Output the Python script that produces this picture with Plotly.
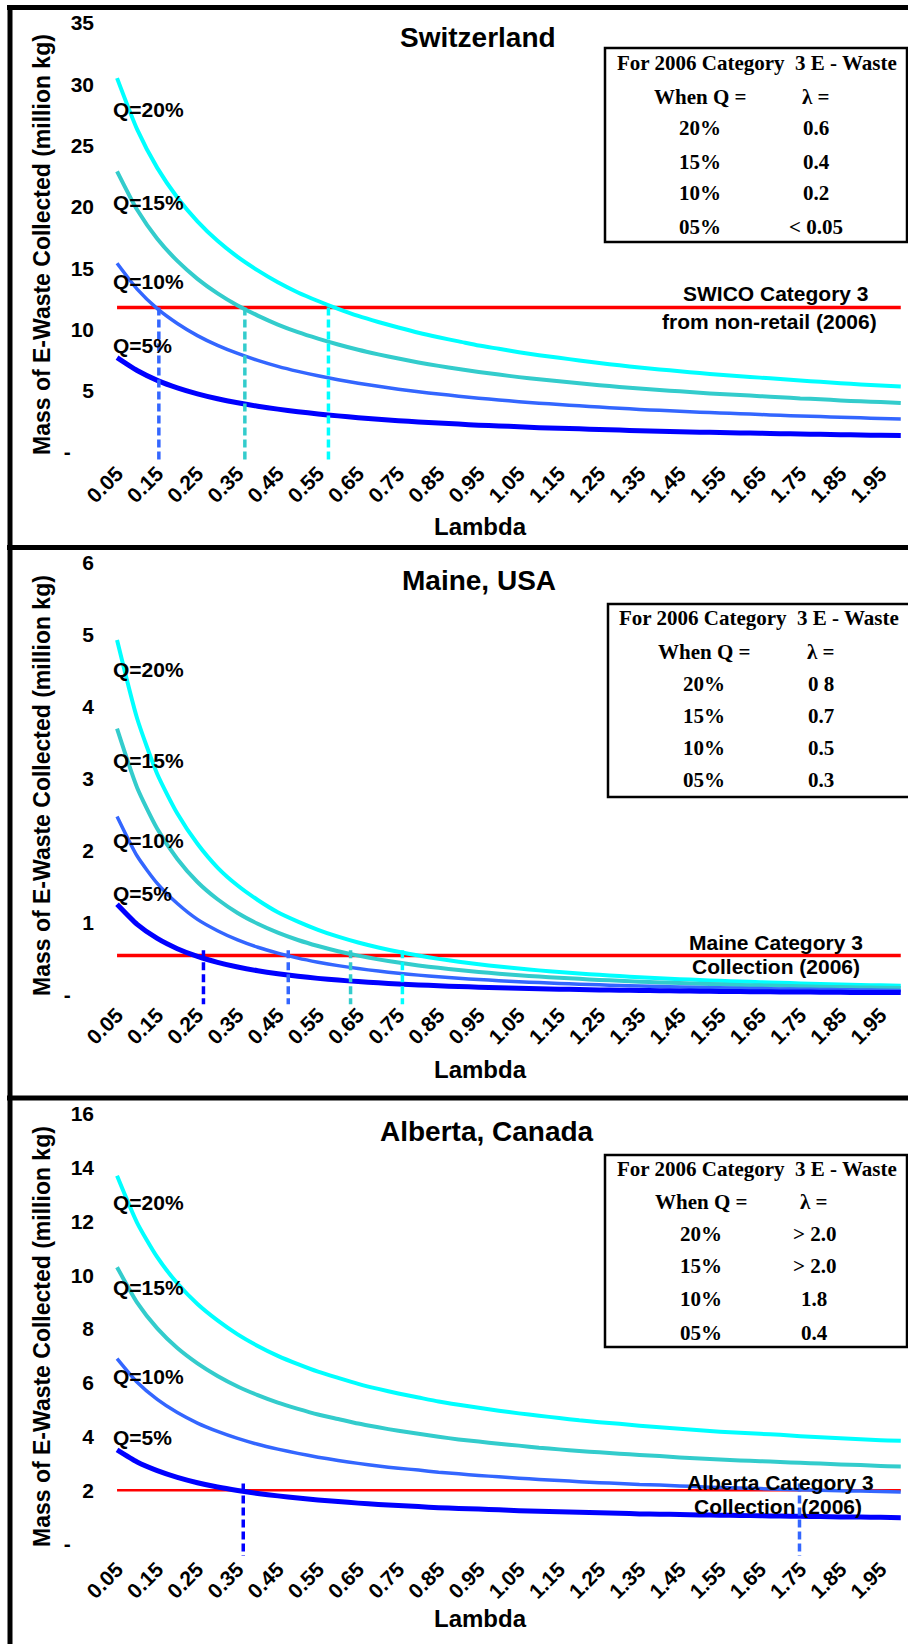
import plotly.graph_objects as go

W, H = 908, 1644

# ---------------------------------------------------------------- data
lam = [0.05, 0.10, 0.15, 0.20, 0.25, 0.30, 0.35, 0.40, 0.45, 0.50,
       0.55, 0.60, 0.65, 0.70, 0.75, 0.80, 0.85, 0.90, 0.95, 1.00,
       1.05, 1.10, 1.15, 1.20, 1.25, 1.30, 1.35, 1.40, 1.45, 1.50,
       1.55, 1.60, 1.65, 1.70, 1.75, 1.80, 1.85, 1.90, 1.95, 2.00]

x_ticktext = ["0.05", "0.15", "0.25", "0.35", "0.45", "0.55", "0.65", "0.75", "0.85", "0.95",
              "1.05", "1.15", "1.25", "1.35", "1.45", "1.55", "1.65", "1.75", "1.85", "1.95"]

# Switzerland (million kg)
ch_q20 = [30.50, 26.32, 23.18, 20.77, 18.82, 17.23, 15.92, 14.82, 13.85, 13.02,
          12.32, 11.68, 11.10, 10.61, 10.16, 9.73, 9.36, 9.03, 8.69, 8.42,
          8.14, 7.90, 7.69, 7.47, 7.26, 7.08, 6.89, 6.74, 6.59, 6.44,
          6.31, 6.19, 6.07, 5.95, 5.83, 5.73, 5.61, 5.52, 5.43, 5.34]
ch_q15 = [22.90, 19.76, 17.40, 15.59, 14.13, 12.94, 11.95, 11.13, 10.40, 9.78,
          9.25, 8.77, 8.34, 7.97, 7.63, 7.31, 7.03, 6.78, 6.53, 6.32,
          6.11, 5.93, 5.77, 5.61, 5.45, 5.31, 5.18, 5.06, 4.95, 4.83,
          4.74, 4.65, 4.56, 4.47, 4.37, 4.31, 4.21, 4.14, 4.08, 4.01]
ch_q10 = [15.40, 13.29, 11.70, 10.49, 9.50, 8.70, 8.04, 7.48, 6.99, 6.58,
          6.22, 5.90, 5.61, 5.36, 5.13, 4.91, 4.73, 4.56, 4.39, 4.25,
          4.11, 3.99, 3.88, 3.77, 3.67, 3.57, 3.48, 3.40, 3.33, 3.25,
          3.19, 3.13, 3.06, 3.00, 2.94, 2.90, 2.83, 2.79, 2.74, 2.70]
ch_q05 = [7.70, 6.65, 5.85, 5.24, 4.75, 4.35, 4.02, 3.74, 3.50, 3.29,
          3.11, 2.95, 2.80, 2.68, 2.56, 2.46, 2.36, 2.28, 2.19, 2.13,
          2.06, 1.99, 1.94, 1.89, 1.83, 1.79, 1.74, 1.70, 1.66, 1.62,
          1.59, 1.56, 1.53, 1.50, 1.47, 1.45, 1.42, 1.39, 1.37, 1.35]
ch_target = 11.8
ch_cross = [0.154, 0.368, 0.576]          # Q=10%, 15%, 20%

# Maine, USA (million kg)
me_q20 = [4.93, 3.84, 3.07, 2.52, 2.10, 1.77, 1.52, 1.32, 1.15, 1.02,
          0.906, 0.810, 0.729, 0.660, 0.600, 0.548, 0.502, 0.462, 0.426, 0.395,
          0.367, 0.342, 0.318, 0.298, 0.280, 0.263, 0.247, 0.233, 0.220, 0.208,
          0.197, 0.187, 0.178, 0.169, 0.161, 0.153, 0.146, 0.140, 0.134, 0.128]
me_q15 = [3.70, 2.88, 2.31, 1.89, 1.57, 1.33, 1.14, 0.990, 0.866, 0.764,
          0.680, 0.608, 0.547, 0.495, 0.450, 0.411, 0.377, 0.347, 0.320, 0.296,
          0.275, 0.256, 0.239, 0.224, 0.210, 0.197, 0.185, 0.175, 0.165, 0.156,
          0.148, 0.140, 0.134, 0.127, 0.121, 0.115, 0.110, 0.105, 0.101, 0.096]
me_q10 = [2.48, 1.93, 1.55, 1.27, 1.05, 0.893, 0.765, 0.663, 0.581, 0.512,
          0.456, 0.408, 0.367, 0.332, 0.302, 0.276, 0.253, 0.232, 0.215, 0.199,
          0.185, 0.172, 0.160, 0.150, 0.141, 0.132, 0.124, 0.117, 0.111, 0.105,
          0.099, 0.094, 0.090, 0.085, 0.081, 0.077, 0.074, 0.070, 0.067, 0.064]
me_q05 = [1.26, 0.981, 0.785, 0.643, 0.536, 0.454, 0.389, 0.337, 0.295, 0.260,
          0.231, 0.207, 0.186, 0.169, 0.153, 0.140, 0.128, 0.118, 0.109, 0.101,
          0.094, 0.087, 0.081, 0.076, 0.071, 0.067, 0.063, 0.060, 0.056, 0.053,
          0.050, 0.048, 0.045, 0.043, 0.041, 0.039, 0.037, 0.036, 0.034, 0.033]
me_target = 0.55
me_cross = [0.265, 0.476, 0.631, 0.760]   # Q=5%, 10%, 15%, 20%

# Alberta, Canada (million kg)
ab_q20 = [13.70, 11.95, 10.67, 9.70, 8.93, 8.32, 7.80, 7.37, 7.00, 6.69,
          6.41, 6.18, 5.96, 5.77, 5.60, 5.45, 5.30, 5.18, 5.07, 4.96,
          4.86, 4.77, 4.69, 4.60, 4.53, 4.47, 4.40, 4.34, 4.29, 4.23,
          4.18, 4.14, 4.10, 4.06, 4.01, 3.97, 3.93, 3.90, 3.86, 3.84]
ab_q15 = [10.30, 8.98, 8.02, 7.29, 6.72, 6.25, 5.86, 5.54, 5.26, 5.03,
          4.82, 4.65, 4.48, 4.34, 4.21, 4.10, 3.99, 3.89, 3.81, 3.73,
          3.66, 3.58, 3.52, 3.46, 3.41, 3.36, 3.31, 3.27, 3.22, 3.18,
          3.14, 3.11, 3.08, 3.05, 3.02, 2.99, 2.96, 2.94, 2.90, 2.88]
ab_q10 = [6.90, 6.02, 5.38, 4.89, 4.50, 4.19, 3.93, 3.71, 3.53, 3.37,
          3.23, 3.11, 3.00, 2.90, 2.82, 2.75, 2.67, 2.61, 2.55, 2.50,
          2.45, 2.40, 2.36, 2.32, 2.28, 2.25, 2.21, 2.19, 2.16, 2.13,
          2.10, 2.08, 2.06, 2.04, 2.02, 2.00, 1.98, 1.97, 1.95, 1.93]
ab_q05 = [3.50, 3.05, 2.73, 2.48, 2.28, 2.12, 1.99, 1.88, 1.79, 1.71,
          1.64, 1.58, 1.52, 1.47, 1.43, 1.39, 1.35, 1.32, 1.30, 1.27,
          1.24, 1.22, 1.20, 1.18, 1.16, 1.14, 1.12, 1.11, 1.10, 1.08,
          1.07, 1.06, 1.05, 1.04, 1.03, 1.02, 1.00, 1.00, 0.99, 0.98]
ab_target = 2.0
ab_cross = [0.364, 1.748]                 # Q=5%, 10%

q_labels = ["Q=20%", "Q=15%", "Q=10%", "Q=5%"]

table_rows_ch = [("20%", "0.6"), ("15%", "0.4"), ("10%", "0.2"), ("05%", "< 0.05")]
table_rows_me = [("20%", "0 8"), ("15%", "0.7"), ("10%", "0.5"), ("05%", "0.3")]
table_rows_ab = [("20%", "> 2.0"), ("15%", "> 2.0"), ("10%", "1.8"), ("05%", "0.4")]

# ---------------------------------------------------------------- styling
COL = {"Q=20%": "#00FFFF", "Q=15%": "#33CCCC", "Q=10%": "#3366FF", "Q=5%": "#0000FF"}
WID = {"Q=20%": 4, "Q=15%": 4, "Q=10%": 3.5, "Q=5%": 5}
SANS = "Liberation Sans, Arial, sans-serif"
SERIF = "Liberation Serif, Times New Roman, serif"


def fx(px):
    return px / W


def fy(py):
    return 1 - py / H


panels = [
    dict(name="Switzerland", series=[ch_q20, ch_q15, ch_q10, ch_q05], target=ch_target,
         cross=ch_cross, cross_q=["Q=10%", "Q=15%", "Q=20%"], cross_top=ch_target, cross_bot=-0.85,
         red_w=3.5, yrange=[-1.0, 35], ydom=(464.3, 23), yticks=[0, 5, 10, 15, 20, 25, 30, 35],
         title_xy=(478, 37), ytitle_y=245, lam_y=526,
         qlab_y=[110, 202, 281, 345],
         note=[("SWICO Category 3", 776, 294), ("from non-retail (2006)", 769, 321)],
         box=(605, 48, 907, 242), rows_y=[63, 97, 128, 162, 193, 227], cols=(700, 816),
         rows=table_rows_ch),
    dict(name="Maine, USA", series=[me_q20, me_q15, me_q10, me_q05], target=me_target,
         cross=me_cross, cross_q=["Q=5%", "Q=10%", "Q=15%", "Q=20%"], cross_top=0.62, cross_bot=-0.13,
         red_w=3.5, yrange=[-0.15, 6], ydom=(1005.8, 563), yticks=[0, 1, 2, 3, 4, 5, 6],
         title_xy=(479, 580), ytitle_y=786, lam_y=1069,
         qlab_y=[669, 760, 840, 893],
         note=[("Maine Category 3", 776, 942), ("Collection (2006)", 776, 966)],
         box=(608, 604, 912, 797), rows_y=[618, 652, 684, 716, 748, 780], cols=(704, 821),
         rows=table_rows_me),
    dict(name="Alberta, Canada", series=[ab_q20, ab_q15, ab_q10, ab_q05], target=ab_target,
         cross=ab_cross, cross_q=["Q=5%", "Q=10%"], cross_top=2.25, cross_bot=-0.45,
         red_w=2.5, yrange=[-0.6, 16], ydom=(1560.1, 1114), yticks=[0, 2, 4, 6, 8, 10, 12, 14, 16],
         title_xy=(487, 1131), ytitle_y=1337, lam_y=1618,
         qlab_y=[1202, 1287, 1376, 1437],
         note=[("Alberta Category 3", 780, 1482), ("Collection (2006)", 778, 1506)],
         box=(605, 1155, 907, 1347), rows_y=[1169, 1202, 1234, 1266, 1299, 1333], cols=(701, 814),
         rows=table_rows_ab),
]

fig = go.Figure()
annotations = []
shapes = []
layout_axes = {}


def ann(text, x, y, size, family=SANS, xanchor="center", yanchor="middle", angle=0):
    return dict(text=text, x=fx(x), y=fy(y), xref="paper", yref="paper", showarrow=False,
                xanchor=xanchor, yanchor=yanchor, textangle=angle,
                font=dict(family=family, size=size, color="black"))


for i, p in enumerate(panels, start=1):
    xa = "x" if i == 1 else f"x{i}"
    ya = "y" if i == 1 else f"y{i}"

    # collection target line
    fig.add_trace(go.Scatter(x=lam, y=[p["target"]] * len(lam), mode="lines",
                             line=dict(color="#FF0000", width=p["red_w"]),
                             xaxis=xa, yaxis=ya, showlegend=False, hoverinfo="skip"))
    # curves
    for lab, ys in zip(q_labels, p["series"]):
        fig.add_trace(go.Scatter(x=lam, y=ys, mode="lines", name=lab,
                                 line=dict(color=COL[lab], width=WID[lab], shape="spline", smoothing=0.6),
                                 xaxis=xa, yaxis=ya, showlegend=False))
    # drop lines where each curve meets the target
    for lab, cx in zip(p["cross_q"], p["cross"]):
        fig.add_trace(go.Scatter(x=[cx, cx], y=[p["cross_top"], p["cross_bot"]], mode="lines",
                                 line=dict(color=COL[lab], width=3.5, dash="8px,4px"),
                                 xaxis=xa, yaxis=ya, showlegend=False, hoverinfo="skip"))

    y0, y1 = p["ydom"]
    layout_axes["xaxis" if i == 1 else f"xaxis{i}"] = dict(
        domain=[fx(107), 1.0], range=[0.025, 2.018], anchor=ya, automargin=False,
        tickvals=[float(t) for t in x_ticktext], ticktext=x_ticktext, tickangle=-45,
        showgrid=False, zeroline=False, showline=False, ticks="", ticklabelstandoff=-8,
        tickfont=dict(family=SANS, size=21, color="black", weight="bold"))
    ytext = ["-\u00a0\u00a0\u00a0\u00a0" if v == 0 else str(v) for v in p["yticks"]]
    layout_axes["yaxis" if i == 1 else f"yaxis{i}"] = dict(
        domain=[fy(y0), fy(y1)], range=p["yrange"], anchor=xa, automargin=False,
        tickvals=p["yticks"], ticktext=ytext,
        showgrid=False, zeroline=False, showline=False, ticks="", ticklabelstandoff=12,
        tickfont=dict(family=SANS, size=21, color="black", weight="bold"))

    # titles
    tx, ty = p["title_xy"]
    annotations.append(ann(f"<b>{p['name']}</b>", tx, ty, 28))
    annotations.append(ann("<b>Mass of E-Waste Collected (million kg)</b>", 42, p["ytitle_y"], 23, angle=-90))
    annotations.append(ann("<b>Lambda</b>", 480, p["lam_y"], 24))
    for lab, qy in zip(q_labels, p["qlab_y"]):
        annotations.append(ann(f"<b>{lab}</b>", 111, qy, 21, xanchor="left"))
    for txt, nx, ny in p["note"]:
        annotations.append(ann(f"<b>{txt}</b>", nx, ny, 21))

    # summary table
    bx0, by0, bx1, by1 = p["box"]
    shapes.append(dict(type="rect", xref="paper", yref="paper",
                       x0=fx(bx0), x1=fx(bx1), y0=fy(by1), y1=fy(by0),
                       line=dict(color="black", width=2.5), fillcolor="white", layer="above"))
    ry = p["rows_y"]
    c1, c2 = p["cols"]
    annotations.append(ann("<b>For 2006 Category  3 E - Waste</b>", (bx0 + min(bx1, 907)) / 2 + 1, ry[0], 21, family=SERIF))
    annotations.append(ann("<b>When Q =</b>", c1, ry[1], 21, family=SERIF))
    annotations.append(ann("<b>λ =</b>", c2, ry[1], 21, family=SERIF))
    for (qv, lv), yy in zip(p["rows"], ry[2:]):
        annotations.append(ann(f"<b>{qv}</b>", c1, yy, 21, family=SERIF))
        annotations.append(ann(f"<b>{lv}</b>", c2, yy, 21, family=SERIF))

# frame lines around and between the panels
frame = [(7, 7.5, 912, 7.5), (10, 5, 10, 1650), (7, 547.5, 912, 547.5), (7, 1098, 912, 1098)]
for x0, y0, x1, y1 in frame:
    shapes.append(dict(type="line", xref="paper", yref="paper",
                       x0=fx(x0), y0=fy(y0), x1=fx(x1), y1=fy(y1),
                       line=dict(color="black", width=5), layer="above"))

fig.update_layout(
    width=W, height=H, margin=dict(l=0, r=0, t=0, b=0, pad=0, autoexpand=False),
    paper_bgcolor="white", plot_bgcolor="white",
    showlegend=False, annotations=annotations, shapes=shapes,
    **layout_axes,
)

fig.write_html("out.html")
